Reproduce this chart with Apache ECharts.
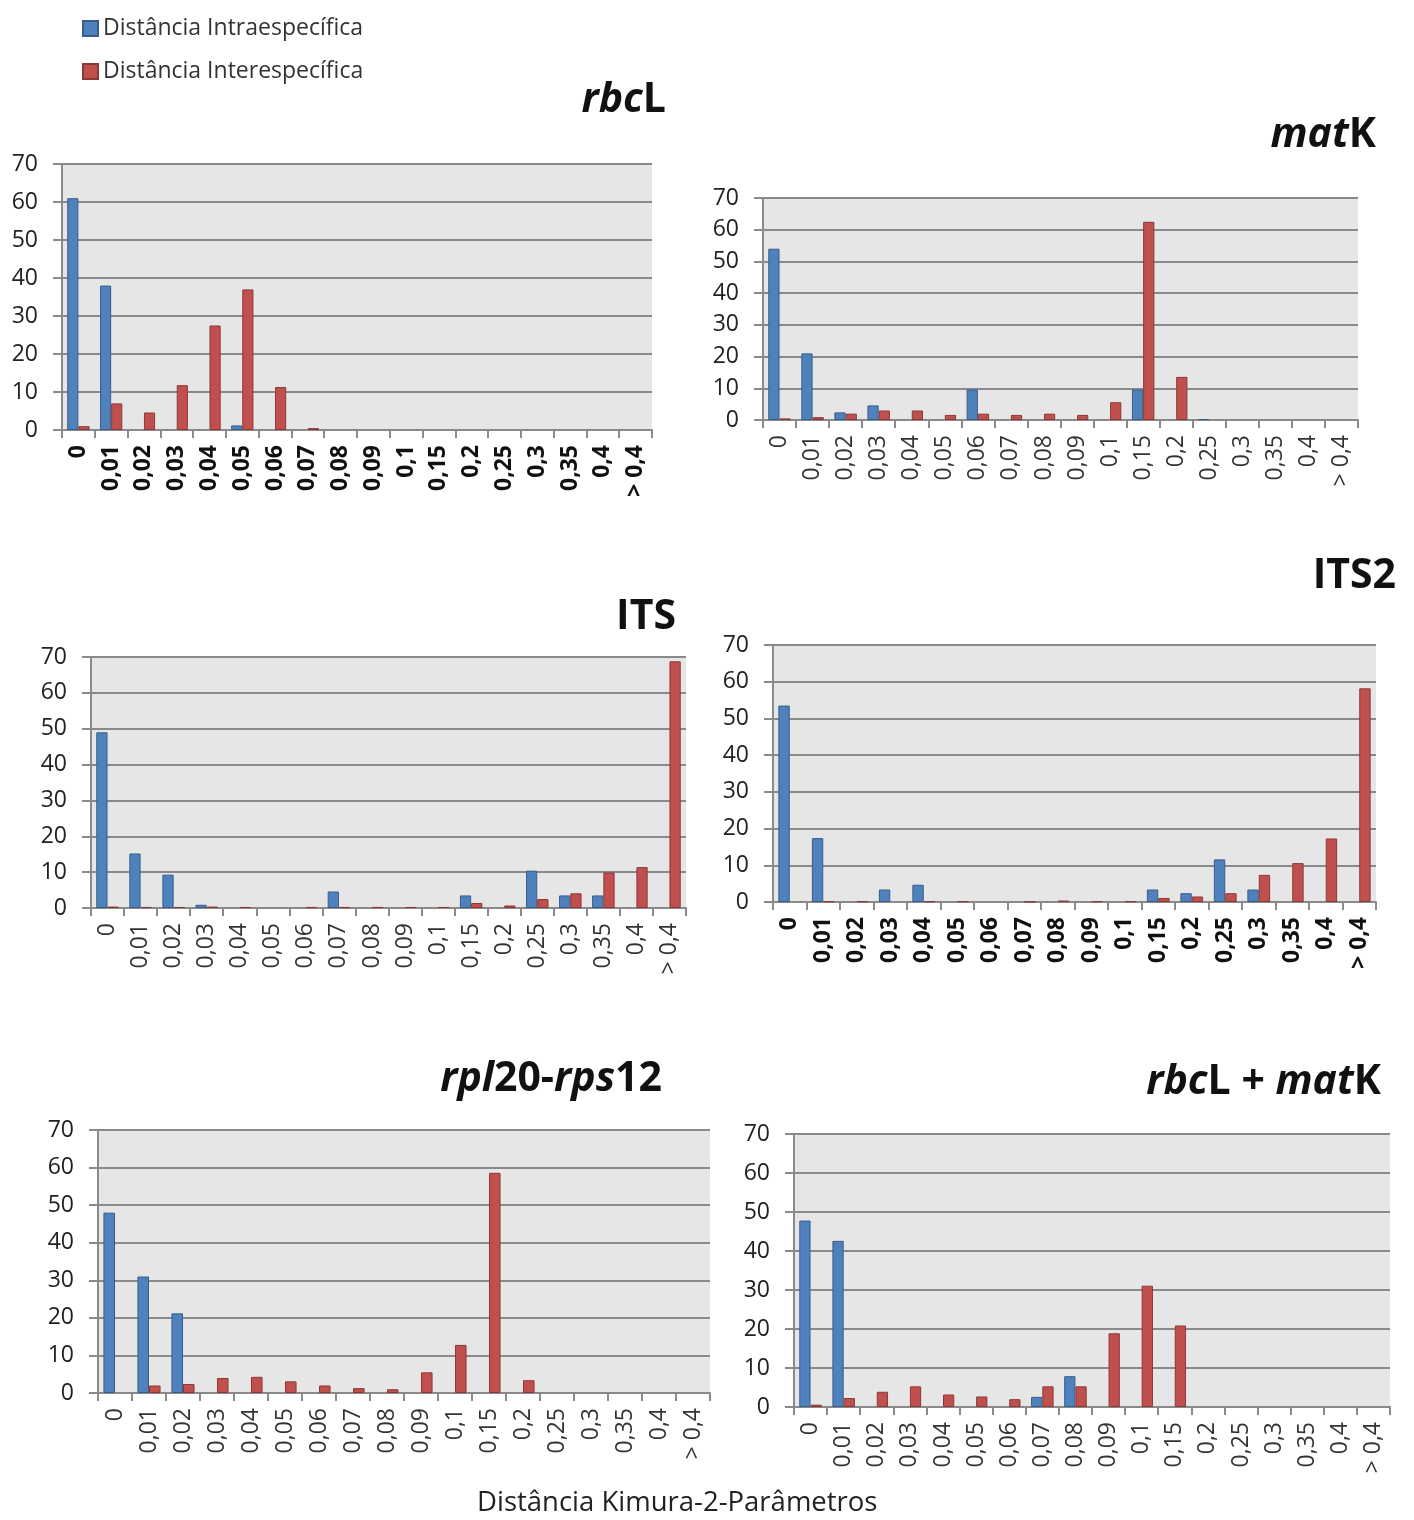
<!DOCTYPE html>
<html>
<head>
<meta charset="utf-8">
<script src="https://cdn.jsdelivr.net/npm/echarts@6/dist/echarts.min.js"></script>
<style>
html, body { margin: 0; padding: 0; background: #fff; }
#main { width: 1414px; height: 1520px; }
</style>
</head>
<body>
<div id="main"></div>
<script>
"use strict"

var categories = ["0", "0,01", "0,02", "0,03", "0,04", "0,05", "0,06", "0,07", "0,08", "0,09",
    "0,1", "0,15", "0,2", "0,25", "0,3", "0,35", "0,4", "> 0,4"];

// rbcL
var rbclIntra = [61, 38, 0, 0, 0, 1.2, 0, 0, 0, 0, 0, 0, 0, 0, 0, 0, 0, 0];
var rbclInter = [1, 7, 4.6, 11.8, 27.5, 37, 11.3, 0.5, 0, 0, 0, 0, 0, 0, 0, 0, 0, 0];
// matK
var matkIntra = [54, 21, 2.4, 4.6, 0, 0, 9.6, 0, 0, 0, 0, 9.6, 0, 0.3, 0, 0, 0, 0];
var matkInter = [0.5, 0.9, 2, 3, 3, 1.6, 2, 1.6, 2, 1.6, 5.6, 62.5, 13.6, 0, 0, 0, 0, 0];
// ITS
var itsIntra = [49, 15.2, 9.3, 0.9, 0, 0, 0, 4.6, 0, 0, 0, 3.5, 0, 10.4, 3.5, 3.5, 0, 0];
var itsInter = [0.4, 0.3, 0.3, 0.4, 0.3, 0, 0.3, 0.3, 0.3, 0.3, 0.3, 1.4, 0.7, 2.5, 4.1, 9.9, 11.4, 68.8];
// ITS2
var its2Intra = [53.5, 17.4, 0, 3.4, 4.7, 0, 0, 0, 0, 0, 0, 3.4, 2.4, 11.6, 3.4, 0, 0, 0];
var its2Inter = [0, 0.2, 0.2, 0, 0.2, 0.2, 0, 0.1, 0.4, 0.2, 0.2, 1.1, 1.5, 2.4, 7.4, 10.6, 17.3, 58.2];
// rpl20-rps12
var rplIntra = [48, 31, 21.2, 0, 0, 0, 0, 0, 0, 0, 0, 0, 0, 0, 0, 0, 0, 0];
var rplInter = [0, 2, 2.4, 4, 4.3, 3.1, 2, 1.3, 1, 5.5, 12.8, 58.6, 3.4, 0, 0, 0, 0, 0];
// rbcL + matK
var combIntra = [47.8, 42.6, 0, 0, 0, 0, 0, 2.6, 7.9, 0, 0, 0, 0, 0, 0, 0, 0, 0];
var combInter = [0.6, 2.3, 3.9, 5.3, 3.2, 2.7, 2, 5.3, 5.3, 18.9, 31.1, 20.9, 0, 0, 0, 0, 0, 0];

var seriesNames = ["Distância Intraespecífica", "Distância Interespecífica"];
var yTicks = [0, 70, 10]; // min, max, interval
var xTitle = "Distância Kimura-2-Parâmetros";

var panels = [
    { title: "{i|rbc}{n|L}", intra: rbclIntra, inter: rbclInter, bold: true,
      grid: { left: 62, top: 164, width: 590, height: 266 }, t: { right: 743, top: 75 } },
    { title: "{i|mat}{n|K}", intra: matkIntra, inter: matkInter, bold: false,
      grid: { left: 763, top: 198, width: 595, height: 222 }, t: { right: 33, top: 110 } },
    { title: "{n|ITS}", intra: itsIntra, inter: itsInter, bold: false,
      grid: { left: 91, top: 657, width: 595, height: 251 }, t: { right: 733, top: 592 } },
    { title: "{n|ITS2}", intra: its2Intra, inter: its2Inter, bold: true,
      grid: { left: 773, top: 645, width: 603, height: 257 }, t: { right: 13, top: 551 } },
    { title: "{i|rpl}{n|20-}{i|rps}{n|12}", intra: rplIntra, inter: rplInter, bold: false,
      grid: { left: 98, top: 1130, width: 612, height: 263 }, t: { right: 747, top: 1054 } },
    { title: "{i|rbc}{n|L + }{i|mat}{n|K}", intra: combIntra, inter: combInter, bold: false,
      grid: { left: 794, top: 1134, width: 596, height: 273 }, t: { right: 28, top: 1057 } }
];

var font = "'Open Sans', 'Noto Sans', sans-serif";
var lineGray = "#8a8a8a";

var grids = [], xAxes = [], yAxes = [], series = [], titles = [];

panels.forEach(function(p, i){
    grids.push(Object.assign({
        show: true,
        backgroundColor: "#e6e6e6",
        borderWidth: 0
    }, p.grid));

    titles.push({
        text: p.title,
        right: p.t.right,
        top: p.t.top,
        textStyle: {
            rich: {
                i: { fontFamily: font, fontSize: 41, fontWeight: "bold", fontStyle: "italic", color: "#111" },
                n: { fontFamily: font, fontSize: 41, fontWeight: "bold", color: "#111" }
            }
        }
    });

    xAxes.push({
        type: "category",
        gridIndex: i,
        data: categories,
        axisLine: { lineStyle: { color: lineGray, width: 2 } },
        axisTick: { show: true, alignWithLabel: false, length: 8, lineStyle: { color: lineGray, width: 2 } },
        axisLabel: {
            rotate: 90,
            interval: 0,
            margin: 15,
            fontFamily: font,
            fontSize: 23,
            fontWeight: p.bold ? "bold" : "normal",
            color: p.bold ? "#111" : "#333"
        }
    });

    yAxes.push({
        type: "value",
        gridIndex: i,
        min: yTicks[0],
        max: yTicks[1],
        interval: yTicks[2],
        axisLine: { show: true, lineStyle: { color: lineGray, width: 2 } },
        axisTick: { show: true, length: 9, lineStyle: { color: lineGray, width: 2 } },
        splitLine: { lineStyle: { color: lineGray, width: 2 } },
        axisLabel: { margin: 24, fontFamily: font, fontSize: 23, color: "#222" }
    });

    series.push({
        name: seriesNames[0],
        type: "bar",
        xAxisIndex: i,
        yAxisIndex: i,
        barWidth: "34%",
        barGap: "0%",
        itemStyle: { color: "#4f81bd", borderColor: "#385d8a", borderWidth: 1 },
        data: p.intra.map(function(v){ return v === 0 ? "-" : v; })
    });
    series.push({
        name: seriesNames[1],
        type: "bar",
        xAxisIndex: i,
        yAxisIndex: i,
        barWidth: "34%",
        barGap: "0%",
        itemStyle: { color: "#c0504d", borderColor: "#8c3836", borderWidth: 1 },
        data: p.inter.map(function(v){ return v === 0 ? "-" : v; })
    });
});

var chart = echarts.init(document.getElementById("main"));
chart.setOption({
    animation: false,
    backgroundColor: "#fff",
    title: titles,
    legend: {
        orient: "vertical",
        left: 77,
        top: 12,
        itemWidth: 15,
        itemHeight: 15,
        itemGap: 20,
        icon: "rect",
        data: seriesNames,
        textStyle: { fontFamily: font, fontSize: 23, color: "#333" }
    },
    graphic: [{
        type: "text",
        left: 477,
        top: 1489,
        style: { text: xTitle, fontFamily: font, fontSize: 27.5, fill: "#222" }
    }],
    grid: grids,
    xAxis: xAxes,
    yAxis: yAxes,
    series: series
});
</script>
</body>
</html>
